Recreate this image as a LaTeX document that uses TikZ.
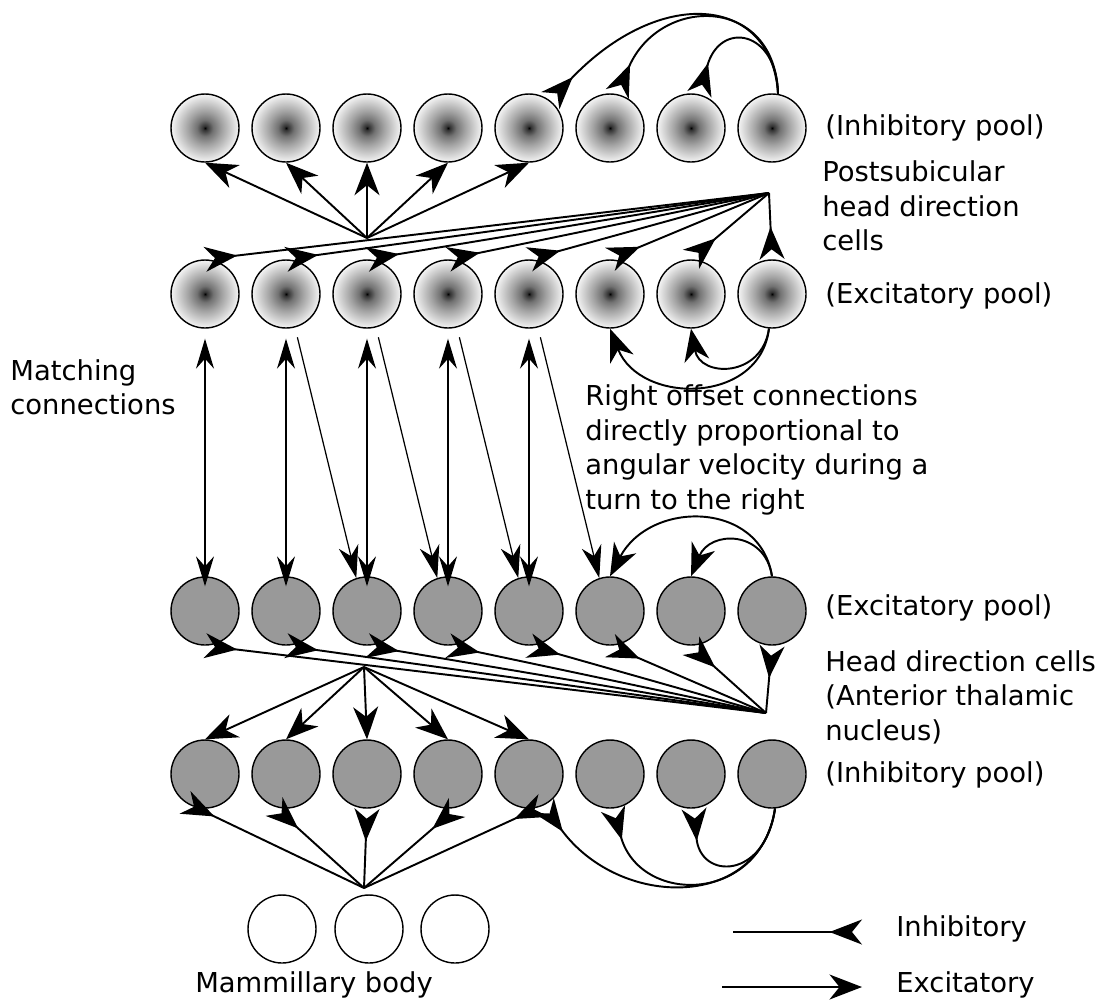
\documentclass[tikz,border=0pt]{standalone}
\usepackage{fontspec}
\setmainfont{DejaVu Sans}
\usepackage{tikz}
\usetikzlibrary{arrows.meta}
\pgfdeclareradialshading{hdshade}{\pgfpoint{0bp}{0bp}}{color(0bp)=(black); color(1.5bp)=(black!80); color(6bp)=(black!55); color(12.5bp)=(black!36); color(25bp)=(black!4); color(50bp)=(black!4)}

\begin{document}
\begin{tikzpicture}[x=0.02cm,y=-0.02cm,
  font=\fontsize{15.6}{19.6}\selectfont,
  cell/.style={circle,draw,line width=0.8pt,minimum size=1.36cm,inner sep=0pt},
  hdcell/.style={cell,shading=hdshade},
  atncell/.style={cell,fill=black!40},
  mbcell/.style={cell,fill=white},
  exc/.style={-{Stealth[length=6.5mm,width=5mm,inset=2mm]},line width=1.1pt},
  inh/.style={-{Stealth[length=6.5mm,width=5mm,inset=2mm,reversed]},line width=1.1pt},
  excthin/.style={-{Stealth[length=6.5mm,width=4mm,inset=2mm]},line width=0.7pt},
  match/.style={{Stealth[length=6mm,width=3.6mm,inset=2mm]}-{Stealth[length=6mm,width=3.6mm,inset=2mm]},line width=0.7pt},
  lbl/.style={anchor=west,align=left,inner sep=0pt}
]
\useasboundingbox (0,0) rectangle (1105,1005);

% cell rows
\foreach \i in {1,...,8}{
  \node[hdcell] (pinh\i) at ({124+81*\i},128) {};
  \node[hdcell] (pexc\i) at ({124+81*\i},294) {};
  \node[atncell] (aexc\i) at ({124+81*\i},611) {};
  \node[atncell] (ainh\i) at ({124+81*\i},774) {};
}
\node[mbcell] (mb1) at (282,929) {};
\node[mbcell] (mb2) at (369,929) {};
\node[mbcell] (mb3) at (455,929) {};

\coordinate (pfan) at (769,193);
\coordinate (phub) at (367,238);
\coordinate (afan) at (766,713);
\coordinate (ahub) at (364,667);
\coordinate (mhub) at (364,888);

% postsubicular
\foreach \i in {1,...,8} \draw[inh] (pfan) -- (pexc\i.north);
\foreach \i in {1,...,5} \draw[exc] (phub) -- (pinh\i.south);
\draw[inh] (pinh8.80) .. controls (772,-5) and (660,-15) .. (pinh5.52);
\draw[inh] (pinh8.80) .. controls (775,-5) and (660,-5) .. (pinh6.78);
\draw[inh] (pinh8.80) .. controls (777,30) and (720,20) .. (pinh7.76);
\draw[exc] (pexc8.265) .. controls (762,378) and (700,378) .. (pexc7.south);
\draw[exc] (pexc8.265) .. controls (760,405) and (640,405) .. (pexc6.south);

% matching and offset connections
\foreach \i in {1,...,5} \draw[match] ([yshift=-2mm]pexc\i.south) -- ([yshift=-2mm]aexc\i.north);
\foreach \i/\j in {2/3,3/4,4/5,5/6} \draw[excthin,shorten <=2mm] (pexc\i.285) -- (aexc\j.108);

% anterior thalamic nucleus
\draw[exc] (aexc8.north) .. controls (760,500) and (650,500) .. (aexc6.north);
\draw[exc] (aexc8.north) .. controls (765,530) and (710,530) .. (aexc7.north);
\foreach \i in {1,...,8} \draw[inh] (afan) -- (aexc\i.south);
\foreach \i in {1,...,5} \draw[exc] (ahub) -- (ainh\i.north);
\draw[inh] (ainh8.275) .. controls (760,910) and (620,910) .. (ainh5.295);
\draw[inh] (ainh8.275) .. controls (760,905) and (640,905) .. (ainh6.275);
\draw[inh] (ainh8.275) .. controls (765,880) and (700,880) .. (ainh7.275);

% mammillary body
\foreach \a/\i in {235/1,250/2,270/3,285/4,295/5} \draw[inh] (mhub) -- (ainh\i.\a);

% labels
\node[lbl] (linh1) at (825,128) {(Inhibitory pool)};
\node[lbl] (lpos) at (822,206) {Postsubicular\\head direction\\cells};
\node[lbl] (lexc1) at (825,296) {(Excitatory pool)};
\node[lbl] (lmatch) at (10,387) {Matching\\connections};
\node[lbl] (loff) at (585,450) {Right offset connections\\directly proportional to\\angular velocity during a\\turn to the right};
\node[lbl] (lexc2) at (825,608) {(Excitatory pool)};
\node[lbl] (latn) at (825,697) {Head direction cells\\(Anterior thalamic\\nucleus)};
\node[lbl] (linh2) at (825,775) {(Inhibitory pool)};
\node (lmb) at (314,985) {Mammillary body};

% key
\coordinate (ki0) at (733,932);
\coordinate (ki1) at (862,932);
\coordinate (ke0) at (722,987);
\coordinate (ke1) at (862,987);
\draw[inh] (ki0) -- (ki1);
\draw[exc] (ke0) -- (ke1);
\node[lbl] (kinh) at (896,929) {Inhibitory};
\node[lbl] (kexc) at (896,985) {Excitatory};
\end{tikzpicture}
\end{document}
